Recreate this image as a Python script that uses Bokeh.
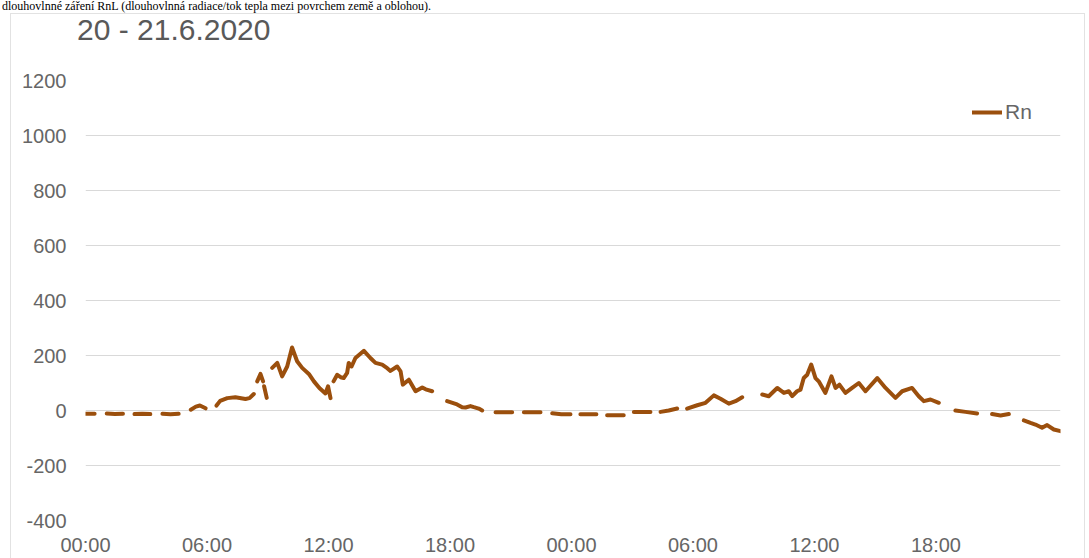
from bokeh.plotting import figure
from bokeh.models import FixedTicker, Range1d, Div, Spacer
from bokeh.layouts import column, row
from bokeh.embed import file_html
from bokeh.resources import INLINE

NaN = float("nan")

heading = "dlouhovlnné záření RnL (dlouhovlnná radiace/tok tepla mezi povrchem země a oblohou)."
chart_title = "20 - 21.6.2020"
series_name = "Rn"

# hours since 20.6.2020 00:00 ; NaN marks a gap in the record
hours = [
    0.0, 0.45, NaN,
    1.05, 1.45, 1.85, NaN,
    2.42, 2.8, 3.2, NaN,
    3.8, 4.2, 4.6, NaN,
    5.2, 5.45, 5.65, 5.93, NaN,
    6.47, 6.65, 7.0, 7.4, 7.9, 8.1, 8.31, NaN,
    8.48, 8.64, 8.77, NaN,
    8.82, 8.95, NaN,
    9.22, 9.47, 9.71, 9.96, 10.2, 10.45, 10.7, 11.03, 11.28, 11.55, 11.85, 11.98, 12.1, NaN,
    12.25, 12.43, 12.6, 12.75, 12.92, 13.0, 13.14, 13.33, 13.75, 14.07, 14.32, 14.65, 14.9,
    15.06, 15.39, 15.56, 15.67, 15.97, 16.3, 16.63, 16.8, 17.12, NaN,
    17.86, 18.35, 18.6, 18.77, 19.01, 19.18, 19.42, 19.59, NaN,
    20.25, 20.65, 21.07, NaN,
    21.65, 22.05, 22.47, NaN,
    23.05, 23.5, 23.95, NaN,
    24.44, 24.85, 25.23, NaN,
    25.76, 26.15, 26.58, NaN,
    27.08, 27.5, 27.9, NaN,
    28.4, 28.8, 29.22, NaN,
    29.71, 30.21, 30.62, 31.03, 31.36, 31.77, 32.1, 32.43, NaN,
    33.42, 33.74, 34.16, 34.49, 34.73, 34.9, 35.14, 35.31, 35.47, 35.64, 35.84, 36.05,
    36.21, 36.54, 36.84, 37.04, 37.23, 37.53, 37.86, 38.19, 38.52, 39.1, 39.51, 40.0,
    40.33, 40.82, 41.15, 41.4, 41.73, 42.14, NaN,
    42.96, 43.46, 44.03, NaN,
    44.77, 45.19, 45.6, NaN,
    46.34, 46.67, 46.91, 47.24, 47.49, 47.82, 48.15,
]

# net radiation Rn (W/m2)
rn = [
    -12, -12, NaN,
    -11, -13, -12, NaN,
    -13, -12, -13, NaN,
    -12, -14, -12, NaN,
    3, 14, 18, 8, NaN,
    18, 35, 45, 48, 42, 45, 60, NaN,
    106, 133, 106, NaN,
    88, 46, NaN,
    155, 173, 124, 160, 229, 179, 155, 133, 106, 82, 62, 88, 45, NaN,
    106, 130, 121, 118, 137, 173, 160, 191, 217, 191, 173, 167, 154,
    144, 160, 142, 94, 112, 70, 84, 77, 70, NaN,
    34, 22, 12, 11, 16, 12, 7, 0, NaN,
    -6, -6, -6, NaN,
    -6, -6, -6, NaN,
    -10, -14, -14, NaN,
    -14, -14, -14, NaN,
    -17, -17, -17, NaN,
    -5, -5, -5, NaN,
    -5, 0, 7, NaN,
    7, 19, 28, 55, 43, 25, 34, 48, NaN,
    58, 52, 82, 64, 70, 52, 70, 76, 118, 130, 167, 118,
    106, 64, 124, 82, 94, 64, 82, 100, 70, 118, 82, 46,
    70, 82, 52, 34, 40, 28, NaN,
    0, -5, -11, NaN,
    -13, -18, -13, NaN,
    -36, -45, -51, -63, -53, -69, -75,
]

x_ticks = [0, 6, 12, 18, 24, 30, 36, 42]
x_tick_labels = ["00:00", "06:00", "12:00", "18:00", "00:00", "06:00", "12:00", "18:00"]
y_ticks = [-400, -200, 0, 200, 400, 600, 800, 1000, 1200]
y_tick_labels = ["-400", "-200", "0", "200", "400", "600", "800", "1000", "1200"]

LINE_COLOR = "#9b4f0d"
TEXT_COLOR = "#666666"
FONT = "Liberation Sans"

p = figure(
    width=1073, height=503,
    x_range=Range1d(0, 48.15), y_range=Range1d(-400, 1200),
    output_backend="svg", toolbar_location=None, title=None,
    min_border_left=74, min_border_right=24, min_border_top=25, min_border_bottom=36,
    margin=0,
)
p.outline_line_color = None
p.background_fill_color = "white"
p.border_fill_color = "white"

p.xgrid.visible = False
p.ygrid.grid_line_color = "#d9d9d9"
p.ygrid.grid_line_width = 1

for ax in (p.xaxis[0], p.yaxis[0]):
    ax.axis_line_color = None
    ax.major_tick_line_color = None
    ax.minor_tick_line_color = None
    ax.major_tick_out = 0
    ax.major_tick_in = 0
    ax.major_label_text_color = TEXT_COLOR
    ax.major_label_text_font = FONT
    ax.major_label_text_font_size = "20px"

p.xaxis.ticker = FixedTicker(ticks=x_ticks)
p.xaxis.major_label_overrides = {t: l for t, l in zip(x_ticks, x_tick_labels)}
p.xaxis.major_label_standoff = 13
p.yaxis.ticker = FixedTicker(ticks=y_ticks)
p.yaxis.major_label_overrides = {t: l for t, l in zip(y_ticks, y_tick_labels)}
p.yaxis.major_label_standoff = 19

p.line(hours, rn, line_color=LINE_COLOR, line_width=4, line_join="round", line_cap="round",
       legend_label=series_name)

lg = p.legend[0]
lg.location = (887, 396)
lg.border_line_color = None
lg.background_fill_alpha = 0
lg.margin = 0
lg.padding = 0
lg.glyph_width = 30
lg.label_standoff = 3
lg.label_text_font = FONT
lg.label_text_font_size = "21px"
lg.label_text_color = TEXT_COLOR

heading_div = Div(
    text=heading, width=1089, height=13, margin=0,
    styles={"font-family": "'Liberation Serif', serif", "font-size": "12px",
            "line-height": "13px", "color": "#000000", "white-space": "nowrap",
            "padding-left": "2px", "overflow": "visible"},
)

title_div = Div(
    text=chart_title, width=1007, height=41, margin=0,
    styles={"font-family": "'Liberation Sans', Arial, sans-serif", "font-size": "30px",
            "line-height": "32px", "color": "#595959", "white-space": "nowrap",
            "padding-left": "66px", "overflow": "visible"},
)

boxed = column(title_div, p, margin=0, spacing=0,
               styles={"border": "1px solid #e2e2e2", "border-bottom": "none",
                       "background-color": "white"})

page = column(heading_div, row(Spacer(width=10, height=10, margin=0), boxed, margin=0, spacing=0),
              margin=0, spacing=0)

open("out.html", "w").write(file_html(page, INLINE))
